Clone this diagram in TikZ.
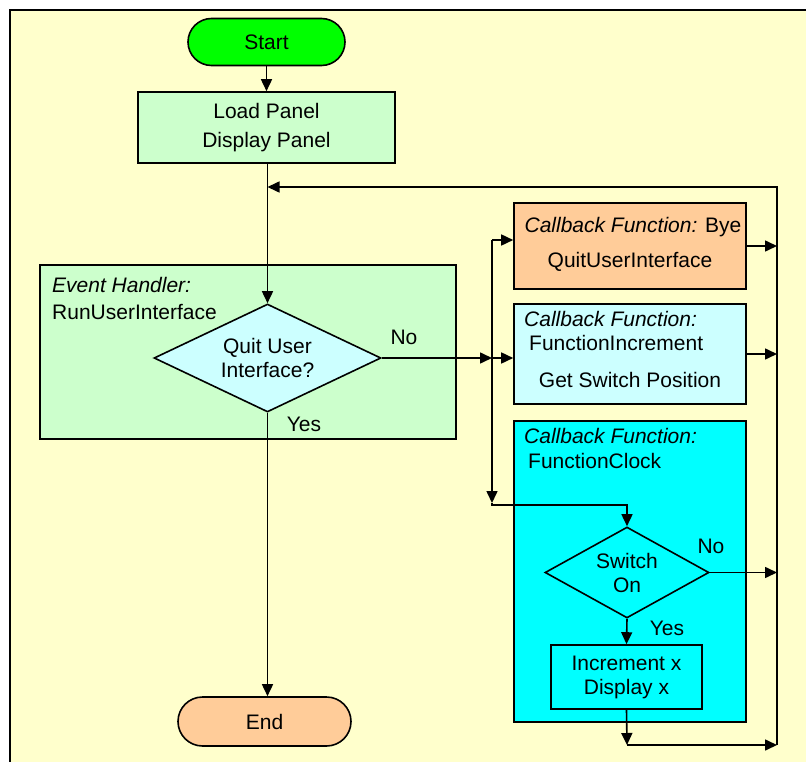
\documentclass[tikz,border=0pt]{standalone}
\usepackage{fontspec}
\setmainfont{Liberation Sans}
\usetikzlibrary{arrows.meta,shapes.geometric,shapes.misc}
\definecolor{bgyellow}{HTML}{FFFFCC}
\definecolor{startgreen}{HTML}{00FF00}
\definecolor{lgreen}{HTML}{CCFFCC}
\definecolor{peach}{HTML}{FFCC99}
\definecolor{lcyan}{HTML}{CCFFFF}
\definecolor{cyanbox}{HTML}{00FFFF}
\tikzset{
  base/.style={draw=black, line width=1.6pt, inner sep=0pt, font=\fontsize{21}{24}\selectfont, align=center},
  term/.style={base, rounded rectangle},
  boxshape/.style={base, rectangle},
  decision/.style={base, diamond},
  txt/.style={inner sep=0pt, font=\fontsize{21}{24}\selectfont},
  arr/.style={line width=1.6pt, -{Triangle[length=12pt,width=11pt]}},
  conn/.style={line width=1.6pt}
}
\begin{document}
\begin{tikzpicture}[x=1pt,y=-1pt]
\useasboundingbox (0,0) rectangle (806,762);
\fill[bgyellow] (10,10) rectangle (806,762);
\draw[line width=1.6pt] (806,10) -- (10,10) -- (10,762);

% big containers
\node[boxshape, fill=lgreen, minimum width=416pt, minimum height=174pt] (evt) at (248,352) {};
\node[boxshape, fill=peach, minimum width=232pt, minimum height=86pt] (bye) at (630,246) {};
\node[boxshape, fill=lcyan, minimum width=232pt, minimum height=100pt] (inc) at (630,354) {};
\node[boxshape, fill=cyanbox, minimum width=232pt, minimum height=301pt] (clk) at (630,571.5) {};

% texts in containers
\node[txt, anchor=west] (evt1) at (52,285) {\itshape Event Handler:};
\node[txt, anchor=west] (evt2) at (52,312) {RunUserInterface};
\node[txt] (bye1) at (633,227) {\itshape Callback Function:\upshape{} Bye};
\node[txt] (bye2) at (630,262) {QuitUserInterface};
\node[txt, anchor=west] (inc1) at (524,319) {\itshape Callback Function:};
\node[txt, anchor=west] (inc2) at (529,343) {FunctionIncrement};
\node[txt] (inc3) at (630,380) {Get Switch Position};
\node[txt, anchor=west] (clk1) at (524,436) {\itshape Callback Function:};
\node[txt, anchor=west] (clk2) at (528,461) {FunctionClock};

% flow nodes
\node[term, fill=startgreen, minimum width=157pt, minimum height=47pt] (start) at (266.5,42) {Start};
\node[boxshape, fill=lgreen, minimum width=257pt, minimum height=71pt, font=\fontsize{21}{29}\selectfont] (load) at (266.5,127.5) {Load Panel\\Display Panel};
\node[decision, fill=lcyan, aspect=2.1, minimum width=227pt, minimum height=108pt] (quit) at (267.5,358) {Quit User\\Interface?};
\node[decision, fill=cyanbox, aspect=1.8, minimum width=164pt, minimum height=91pt] (sw) at (627,572.5) {Switch\\On};
\node[boxshape, fill=cyanbox, minimum width=151pt, minimum height=64pt] (incx) at (626.5,677) {Increment x\\Display x};
\node[term, fill=peach, minimum width=173pt, minimum height=49pt] (end) at (264.5,721.5) {End};

% labels
\node[txt] (noq) at (404,337) {No};
\node[txt] (yesq) at (304,424) {Yes};
\node[txt] (nos) at (711,546) {No};
\node[txt] (yess) at (667,628) {Yes};

% coordinates
\coordinate (rtop) at (777,187);
\coordinate (rbot) at (777,745);
\coordinate (loopin) at (267.5,187);
\coordinate (bustop) at (492,240);
\coordinate (busbot) at (492,503);
\coordinate (cb) at (627,745);

% connectors
\draw[arr] (start.south) -- (load.north);
\draw[arr] (quit.north |- load.south) -- (quit.north);
\draw[arr] (rbot) -- (rtop) -- (loopin);
\draw[arr] (quit.south) -- (quit.south |- end.north);
\draw[arr] (quit.east) -- (quit.east -| bustop);
\draw[arr] (quit.east -| bustop) -- (quit.east -| inc.west);
\draw[arr] (bustop) -- (busbot);
\draw[arr] (bustop) -- (bustop -| bye.west);
\draw[arr] (busbot) -- ++(0,2) -| (sw.north);
\draw[arr] (bye.east) -- (bye.east -| rtop);
\draw[arr] (inc.east) -- (inc.east -| rtop);
\draw[arr] (sw.east) -- (sw.east -| rtop);
\draw[arr] (sw.south) -- (incx.north);
\draw[arr] (incx.south) -- (cb);
\draw[arr] (cb) -- (cb -| rtop);
\end{tikzpicture}
\end{document}
